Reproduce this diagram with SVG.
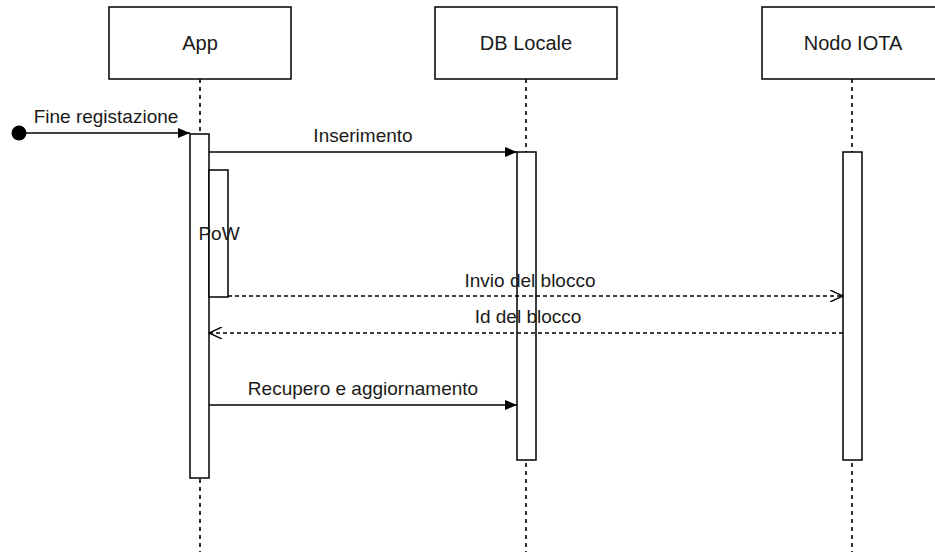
<svg xmlns="http://www.w3.org/2000/svg" width="935" height="552" viewBox="0 0 935 552">
<defs>
<style>
.box{fill:#fff;stroke:#000;stroke-width:1.5}
.life{stroke:#000;stroke-width:1.6;stroke-dasharray:4 4;fill:none}
.msg{stroke:#000;stroke-width:1.6;fill:none}
.dash{stroke:#000;stroke-width:1.3;stroke-dasharray:4 3;fill:none}
.hdr{font-family:"Liberation Sans",Arial,sans-serif;font-size:20px;fill:#1a1a1a;text-anchor:middle}
.lbl{font-family:"Liberation Sans",Arial,sans-serif;font-size:19px;fill:#1a1a1a;text-anchor:middle}
</style>
<marker id="filled" viewBox="0 0 12 10" refX="12" refY="5" markerWidth="12" markerHeight="10" markerUnits="userSpaceOnUse" orient="auto">
<path d="M0,0 L12,5 L0,10 Z" fill="#000"/>
</marker>
<marker id="open" viewBox="0 0 14 12" refX="13" refY="6" markerWidth="14" markerHeight="12" markerUnits="userSpaceOnUse" orient="auto">
<path d="M0,0 L13,6 L0,12" fill="none" stroke="#000" stroke-width="1.4"/>
</marker>
</defs>
<rect width="935" height="552" fill="#fff"/>

<g id="app">
<line class="life" x1="200" y1="79" x2="200" y2="552"/>
<rect class="box" x="109" y="7" width="182" height="72"/>
<text class="hdr" x="200" y="50">App</text>
<rect class="box" x="190" y="134" width="19" height="344"/>
</g>

<g id="db-locale">
<line class="life" x1="526" y1="79" x2="526" y2="552"/>
<rect class="box" x="435" y="7" width="182" height="72"/>
<text class="hdr" x="526" y="50">DB Locale</text>
<rect class="box" x="517" y="152" width="19" height="308"/>
</g>

<g id="nodo-iota">
<line class="life" x1="852" y1="79" x2="852" y2="552"/>
<rect class="box" x="762" y="7" width="182" height="72"/>
<text class="hdr" x="853" y="50">Nodo IOTA</text>
<rect class="box" x="843" y="152" width="19" height="308"/>
</g>

<g id="pow">
<rect class="box" x="209" y="170" width="19" height="127"/>
<text class="lbl" x="219" y="240">PoW</text>
</g>

<g id="start">
<circle cx="19" cy="133" r="7.5" fill="#000"/>
</g>

<g id="connectors">
<line class="msg" x1="19" y1="133" x2="190" y2="133" marker-end="url(#filled)"/>
<text class="lbl" x="106" y="123">Fine registazione</text>

<line class="msg" x1="209" y1="152" x2="517" y2="152" marker-end="url(#filled)"/>
<text class="lbl" x="363" y="142">Inserimento</text>

<line class="dash" x1="228" y1="296" x2="843" y2="296" marker-end="url(#open)"/>
<text class="lbl" x="530" y="287">Invio del blocco</text>

<line class="dash" x1="843" y1="333" x2="209" y2="333" marker-end="url(#open)"/>
<text class="lbl" x="528" y="323">Id del blocco</text>

<line class="msg" x1="209" y1="405" x2="517" y2="405" marker-end="url(#filled)"/>
<text class="lbl" x="363" y="395">Recupero e aggiornamento</text>
</g>
</svg>
